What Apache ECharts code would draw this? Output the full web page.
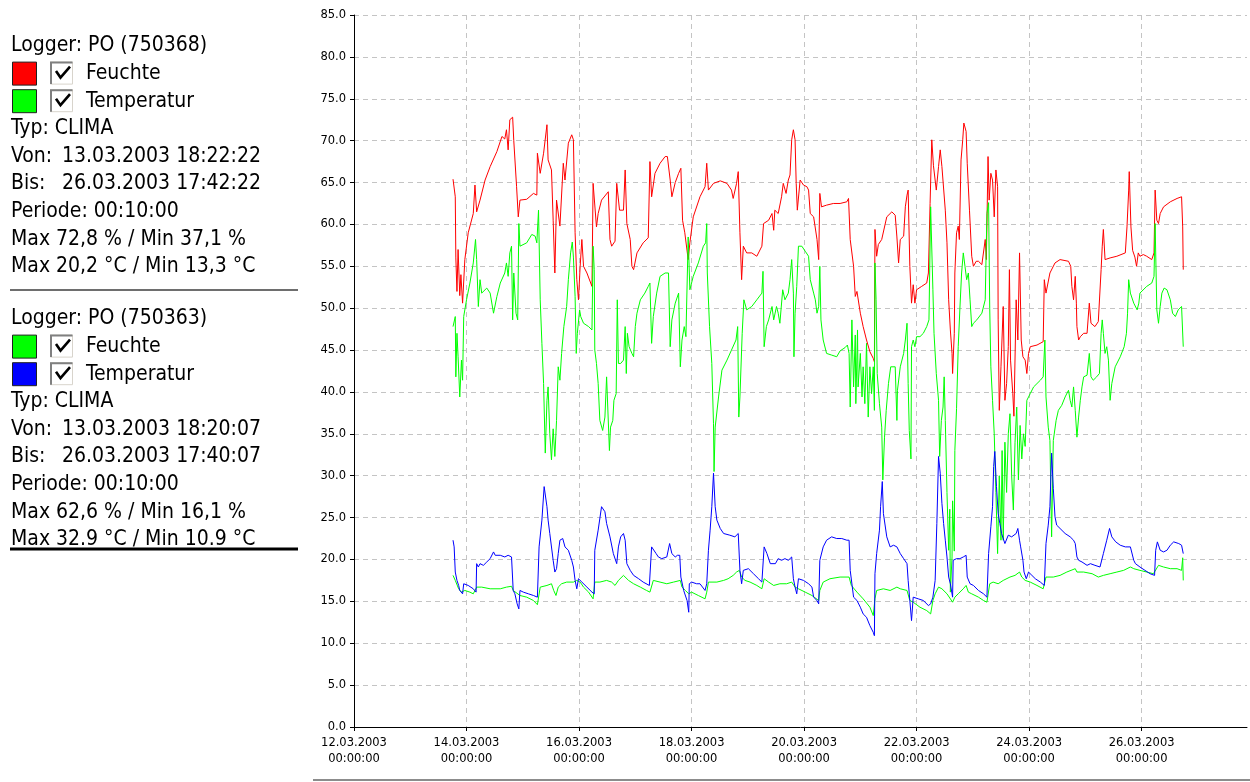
<!DOCTYPE html>
<html>
<head>
<meta charset="utf-8">
<script src="https://cdn.jsdelivr.net/npm/echarts@6/dist/echarts.min.js"></script>
<style>
  html, body { margin: 0; padding: 0; background: #ffffff; }
  #chart { width: 1250px; height: 782px; }
</style>
</head>
<body>
<div id="chart"></div>
<script>
// Time is given as day of March 2003 (decimal), values in % or °C.

// Logger PO (750368) – Feuchte [%]
const redHumidity1 = [
[13.76,65.4],[13.80,63.3],[13.81,56],[13.83,52],[13.85,57],[13.88,51.5],[13.90,54],[13.93,50.6],[13.97,55.8],[14.03,59],[14.12,61.3],[14.15,64.7],[14.18,61.5],[14.24,62.9],[14.33,65.3],[14.42,66.9],[14.54,68.7],[14.63,70.5],[14.68,70.2],[14.71,71.3],[14.74,68.9],[14.77,72.5],[14.82,72.8],[14.84,70],[14.89,64.5],[14.92,60.9],[14.95,62.9],[15.07,63],[15.19,63.7],[15.25,63.5],[15.26,68.5],[15.31,66.1],[15.37,68.5],[15.43,71.9],[15.45,67.7],[15.51,66.5],[15.54,60.5],[15.57,54.2],[15.60,62.9],[15.66,59.8],[15.72,67.3],[15.75,65.3],[15.81,69.7],[15.87,70.7],[15.90,70.1],[15.93,59],[15.96,53.4],[15.99,51],[16.02,55],[16.05,58.2],[16.08,55],[16.14,54.2],[16.23,52.6],[16.25,64.9],[16.31,59.7],[16.34,61.3],[16.40,62.9],[16.52,63.9],[16.55,58.2],[16.58,57.4],[16.64,58],[16.67,64.9],[16.72,61.7],[16.79,61.7],[16.82,66.5],[16.85,60.1],[16.91,58.2],[16.94,55],[16.97,54.6],[17.03,56.6],[17.14,57.8],[17.23,58.4],[17.26,67.5],[17.29,63.3],[17.35,66.1],[17.44,67.3],[17.53,68.1],[17.57,68.1],[17.62,65.3],[17.65,63.3],[17.71,65],[17.77,66.1],[17.81,66.7],[17.84,60.5],[17.88,59],[17.94,55.8],[17.97,57.8],[18.03,60.9],[18.15,63.3],[18.24,64.5],[18.27,67.3],[18.30,64.1],[18.39,64.9],[18.51,65.2],[18.63,64.9],[18.71,64.1],[18.74,63.1],[18.80,64.9],[18.83,66.3],[18.86,59],[18.89,53.4],[18.92,57.4],[18.98,56.6],[19.07,56.6],[19.16,56.2],[19.25,57.4],[19.28,60.1],[19.37,60.5],[19.43,61.3],[19.46,59.3],[19.48,61.7],[19.54,61.3],[19.60,63.3],[19.63,64.9],[19.68,63.7],[19.72,65.3],[19.75,65.9],[19.78,70.1],[19.81,71.3],[19.84,70.1],[19.86,64.9],[19.88,61.7],[19.93,65.3],[19.99,64.7],[20.05,64.5],[20.08,64.1],[20.11,61.3],[20.17,60.9],[20.23,58.2],[20.26,55.8],[20.28,63.7],[20.31,62.1],[20.40,62.3],[20.52,62.5],[20.64,62.5],[20.76,62.7],[20.79,63.1],[20.82,58.2],[20.88,55],[20.91,51.4],[20.94,52],[21.00,49.4],[21.05,47.8],[21.11,46.2],[21.17,44.8],[21.23,44],[21.25,43.6],[21.26,59.4],[21.29,56.2],[21.32,57.6],[21.38,58.2],[21.47,60.9],[21.56,61.5],[21.62,61.1],[21.65,58.5],[21.68,55.4],[21.71,58.2],[21.77,58.6],[21.80,62.1],[21.83,63.5],[21.85,64.1],[21.88,55],[21.91,50.6],[21.94,52.8],[21.97,50.6],[22.00,52.2],[22.09,52.6],[22.18,53],[22.21,54.2],[22.24,62.5],[22.27,70.1],[22.30,67],[22.35,64.1],[22.39,66.9],[22.42,68.9],[22.45,66.9],[22.48,66.9],[22.51,61.7],[22.54,57.8],[22.57,51],[22.60,47.4],[22.63,44.6],[22.64,42.2],[22.67,47],[22.68,54.2],[22.71,59],[22.74,59.8],[22.76,58.2],[22.79,67.7],[22.82,70.1],[22.84,72.1],[22.88,71.1],[22.90,67.3],[22.94,61.7],[22.98,56.2],[23.01,55],[23.06,55.6],[23.10,55.6],[23.16,55.2],[23.22,58.2],[23.24,55.8],[23.27,68.1],[23.29,62.9],[23.32,66.1],[23.35,65.3],[23.38,60.9],[23.41,66.5],[23.44,64.5],[23.45,48.6],[23.47,37.8],[23.50,43],[23.54,50.2],[23.57,39],[23.60,41],[23.63,45.4],[23.65,54.6],[23.67,43.8],[23.71,39.8],[23.73,37.1],[23.77,51],[23.80,46.2],[23.83,56.6],[23.86,46.2],[23.89,44.2],[23.93,43.8],[23.96,42.2],[23.99,44.6],[24.02,45.4],[24.14,45.6],[24.25,46],[24.27,53.4],[24.30,51.8],[24.37,54.2],[24.46,55.4],[24.55,55.8],[24.70,55.6],[24.74,55],[24.76,52.6],[24.79,51],[24.82,53.8],[24.84,50.6],[24.85,47.8],[24.88,46.2],[24.91,46.6],[24.97,47],[25.03,47],[25.07,50.6],[25.10,48.2],[25.13,48],[25.17,47.8],[25.23,48.4],[25.28,54.6],[25.30,57.4],[25.32,59.4],[25.35,55.8],[25.44,56],[25.56,56.2],[25.71,56.6],[25.74,59.7],[25.77,64.1],[25.78,66.3],[25.81,59.7],[25.84,56.9],[25.88,56.1],[25.91,55],[25.94,56.6],[25.97,56.2],[26.03,56.4],[26.09,56.2],[26.18,55.8],[26.22,56.6],[26.24,64.1],[26.27,60.5],[26.30,60.1],[26.33,61.3],[26.39,62.1],[26.51,62.7],[26.63,63.1],[26.71,63.3],[26.73,59.7],[26.74,54.6]
];

// Logger PO (750368) – Temperatur [°C]
const greenTemp1 = [
[13.76,18.1],[13.80,17.5],[13.86,16.5],[13.91,16.1],[13.97,16.3],[14.06,16.1],[14.12,15.9],[14.15,15.7],[14.18,16.7],[14.27,16.7],[14.42,16.5],[14.60,16.5],[14.71,16.7],[14.80,16.8],[14.83,16.3],[14.95,15.7],[15.07,15.5],[15.19,15.1],[15.26,14.6],[15.31,16.7],[15.43,16.9],[15.51,17.1],[15.55,16.3],[15.59,15.7],[15.63,16.7],[15.69,17.1],[15.78,17.3],[15.90,17.3],[15.96,17.5],[16.02,17.3],[16.08,16.7],[16.17,16.1],[16.25,15.3],[16.28,17.3],[16.37,17.3],[16.49,17.5],[16.58,17.3],[16.64,16.9],[16.70,17.5],[16.79,18.1],[16.88,17.5],[16.97,17.1],[17.09,16.7],[17.20,16.3],[17.26,16.1],[17.32,17.5],[17.44,17.3],[17.56,17.1],[17.68,17.3],[17.80,17.5],[17.83,16.7],[17.89,16.3],[17.95,15.9],[18.00,16.1],[18.12,15.7],[18.24,15.3],[18.27,16.1],[18.30,17.3],[18.45,17.3],[18.57,17.5],[18.65,17.7],[18.74,18.1],[18.80,18.5],[18.85,18.7],[18.89,17.9],[18.95,17.5],[19.04,17.3],[19.16,16.9],[19.25,16.5],[19.29,17.7],[19.37,17.3],[19.46,16.9],[19.57,17.1],[19.69,17.1],[19.78,17.3],[19.84,16.7],[19.90,16.5],[20.02,16.1],[20.14,15.7],[20.26,15.1],[20.28,16.3],[20.34,17.3],[20.46,17.7],[20.64,17.9],[20.80,17.9],[20.84,16.9],[20.94,16.1],[21.05,15.3],[21.17,14.3],[21.23,13.3],[21.26,15.3],[21.29,16.3],[21.41,16.5],[21.53,16.3],[21.65,16.7],[21.71,16.5],[21.83,16.3],[21.88,15.1],[21.94,14.9],[22.06,14.3],[22.18,13.9],[22.25,13.5],[22.29,15.1],[22.33,15.9],[22.39,16.7],[22.45,16.5],[22.54,15.9],[22.64,14.9],[22.68,15.5],[22.74,15.9],[22.83,16.5],[22.88,16.9],[22.92,16.1],[22.98,15.9],[23.10,15.5],[23.19,15.1],[23.25,14.9],[23.30,17.1],[23.36,17.3],[23.45,17.1],[23.54,17.5],[23.66,17.9],[23.75,18.1],[23.83,18.5],[23.87,17.9],[23.93,17.5],[24.02,17.3],[24.14,16.9],[24.25,16.5],[24.30,17.9],[24.43,17.9],[24.55,18.1],[24.67,18.5],[24.82,18.9],[24.85,18.5],[24.97,18.5],[25.12,18.3],[25.23,17.9],[25.32,18.1],[25.44,18.3],[25.56,18.5],[25.68,18.7],[25.80,19.1],[25.86,18.9],[25.97,18.7],[26.09,18.5],[26.21,18.3],[26.30,19.3],[26.39,19.1],[26.51,18.9],[26.63,18.9],[26.71,18.7],[26.73,20.2],[26.74,17.5]
];

// Logger PO (750363) – Feuchte [%]
const greenHumidity2 = [
[13.76,47.8],[13.80,49],[13.81,41.8],[13.83,47],[13.85,44.2],[13.88,39.4],[13.91,43.8],[13.93,41.4],[13.95,49],[14.00,51],[14.06,53],[14.12,55.4],[14.16,58.2],[14.18,55.8],[14.21,50.2],[14.24,53.4],[14.27,51.8],[14.36,52.4],[14.42,51.8],[14.48,49.4],[14.54,51.4],[14.60,53],[14.68,54.2],[14.71,55.4],[14.74,53.8],[14.77,56.6],[14.80,57.4],[14.82,48.6],[14.84,54.2],[14.88,49.4],[14.91,48.6],[14.93,60.1],[14.95,57.4],[15.07,57.8],[15.16,58.8],[15.22,58.6],[15.25,57.8],[15.28,61.7],[15.31,51],[15.34,45.8],[15.37,41],[15.40,32.7],[15.43,39],[15.45,40.6],[15.48,35],[15.51,31.9],[15.54,35.6],[15.57,32.3],[15.60,36.6],[15.63,43],[15.66,41.4],[15.69,44.6],[15.73,47.8],[15.78,50.2],[15.81,53.4],[15.85,56.6],[15.88,57.9],[15.90,56.1],[15.93,51.4],[15.95,44.6],[15.97,47],[16.01,49.8],[16.03,49],[16.08,48.2],[16.17,47.8],[16.23,47.4],[16.25,57.4],[16.27,54.6],[16.28,45],[16.31,43.4],[16.34,41],[16.37,36.6],[16.42,35.4],[16.46,37],[16.49,41.8],[16.52,41.8],[16.54,33],[16.56,35.8],[16.60,36.6],[16.62,39],[16.66,39.8],[16.68,51],[16.70,43.4],[16.74,43.4],[16.79,43.8],[16.82,47.8],[16.84,42.2],[16.86,47],[16.89,45.4],[16.94,44.6],[16.97,44.2],[17.00,47.8],[17.03,49.4],[17.09,51],[17.17,51.8],[17.23,52.6],[17.26,53],[17.29,45.8],[17.32,49],[17.38,51.8],[17.44,53.8],[17.53,54.2],[17.59,54.2],[17.62,45.4],[17.65,48.6],[17.71,50.6],[17.77,51.8],[17.80,43],[17.83,46.2],[17.87,47.8],[17.90,46.6],[17.94,58.5],[17.97,52.2],[18.03,53.8],[18.12,55.4],[18.21,57.4],[18.25,57.8],[18.27,60.1],[18.28,54.2],[18.32,47.8],[18.36,43.4],[18.39,36.2],[18.40,30.5],[18.42,35.8],[18.48,39.4],[18.54,42.6],[18.63,43.8],[18.71,45],[18.79,46.2],[18.82,47.8],[18.84,37],[18.86,39.4],[18.90,47],[18.93,51],[18.98,49.8],[19.07,50.2],[19.16,51],[19.25,51.8],[19.27,54.4],[19.29,45.4],[19.33,47.8],[19.37,48.6],[19.43,50.2],[19.46,48.6],[19.51,50.2],[19.54,49.4],[19.57,48.2],[19.62,52.2],[19.66,51],[19.72,51.8],[19.75,53.4],[19.78,55.8],[19.81,51.8],[19.82,44.2],[19.84,49.4],[19.87,52.6],[19.90,57.4],[19.96,57.4],[20.02,56.8],[20.08,56.2],[20.11,53.4],[20.17,51.8],[20.20,51],[20.23,49.4],[20.26,50.2],[20.28,55],[20.30,48.6],[20.34,46.2],[20.40,44.6],[20.49,44.4],[20.58,44.2],[20.64,44.9],[20.73,45.3],[20.77,45.6],[20.80,44.6],[20.82,38.2],[20.85,48.6],[20.88,40.6],[20.91,46.8],[20.92,38.6],[20.95,47.4],[20.96,40.6],[21.00,44.6],[21.03,39.4],[21.05,43],[21.08,38.6],[21.11,45.8],[21.14,37],[21.17,43],[21.20,39.8],[21.23,43],[21.25,37.8],[21.26,55.4],[21.28,51],[21.30,42.2],[21.34,38.6],[21.38,35.8],[21.40,29.5],[21.43,34.6],[21.46,37.8],[21.50,41],[21.54,43],[21.62,43],[21.65,36.6],[21.66,40.2],[21.71,43],[21.77,44.6],[21.80,46.2],[21.83,48.2],[21.85,41],[21.87,35.4],[21.90,32],[21.91,45.4],[21.94,46.2],[21.97,45.4],[22.00,46.6],[22.06,46.6],[22.12,47],[22.18,47.8],[22.22,48.6],[22.25,62.1],[22.29,52.2],[22.31,47],[22.35,42.2],[22.39,39],[22.41,32.3],[22.44,36.6],[22.47,38.2],[22.49,41.8],[22.51,36.6],[22.54,28],[22.57,21.1],[22.59,26],[22.60,16.1],[22.63,20.3],[22.64,27],[22.67,21],[22.68,33],[22.71,38],[22.74,45.4],[22.77,50],[22.80,54.2],[22.83,56.6],[22.86,55],[22.89,53.4],[22.92,54.2],[22.95,51],[22.98,47.8],[23.01,48.2],[23.07,48.6],[23.16,49.4],[23.22,51],[23.25,61.3],[23.28,62.6],[23.30,50],[23.32,43],[23.35,39],[23.38,35],[23.41,28],[23.44,20.7],[23.47,30],[23.50,22.3],[23.52,33],[23.54,22.3],[23.57,34],[23.60,28],[23.63,35],[23.66,37.4],[23.69,30],[23.72,25.9],[23.75,34],[23.78,38.2],[23.81,29.5],[23.84,36],[23.87,32],[23.90,35],[23.93,33.5],[23.96,39],[24.02,39.8],[24.08,40.6],[24.14,41],[24.20,41.4],[24.25,41.8],[24.28,46.2],[24.30,39.4],[24.34,35.8],[24.37,34.2],[24.40,22.7],[24.43,34.2],[24.48,36.6],[24.52,37.8],[24.58,38.4],[24.64,39.4],[24.70,40.2],[24.73,39],[24.76,38.2],[24.79,40.6],[24.82,37.8],[24.85,34.6],[24.88,37],[24.91,39],[24.94,40.6],[24.97,41.8],[25.03,42],[25.07,44.6],[25.10,41.8],[25.14,41.4],[25.20,41.8],[25.25,42.2],[25.28,47],[25.30,48.6],[25.32,47],[25.35,44.6],[25.38,45.4],[25.41,43.8],[25.44,39],[25.47,41],[25.53,43],[25.62,44.2],[25.69,45.4],[25.73,47],[25.75,49.4],[25.77,53.4],[25.80,51.8],[25.86,50.6],[25.92,49.8],[25.95,50.6],[25.97,51.8],[26.09,52.6],[26.18,53],[26.22,53.8],[26.24,60.1],[26.27,49.8],[26.30,48.2],[26.33,50.2],[26.36,51.8],[26.40,52.4],[26.45,52.2],[26.51,51],[26.55,49.4],[26.60,49],[26.65,49.8],[26.71,50.2],[26.74,45.4]
];

// Logger PO (750363) – Temperatur [°C]
const blueTemp2 = [
[13.76,22.3],[13.78,21.5],[13.80,18.5],[13.83,17.5],[13.86,16.9],[13.88,16.3],[13.93,15.9],[13.95,17.1],[14.03,16.9],[14.12,16.5],[14.17,16.1],[14.18,19.5],[14.21,19.1],[14.24,19.5],[14.30,19.3],[14.36,19.7],[14.42,20.1],[14.48,20.9],[14.51,20.5],[14.60,20.5],[14.68,20.3],[14.74,20.5],[14.80,20.3],[14.83,16.3],[14.86,15.9],[14.90,14.7],[14.93,14.1],[14.95,16.3],[15.01,16.1],[15.10,15.9],[15.19,15.7],[15.26,15.5],[15.29,21.5],[15.34,24.7],[15.38,28.7],[15.40,28.9],[15.43,26.3],[15.45,24.7],[15.48,23.1],[15.54,19.9],[15.57,18.5],[15.60,18.9],[15.63,20.7],[15.66,22.3],[15.71,22.5],[15.75,21.5],[15.81,21.1],[15.87,19.9],[15.90,19.1],[15.93,17.5],[15.96,16.5],[15.99,17.7],[16.05,17.3],[16.14,16.7],[16.23,16.1],[16.27,15.9],[16.28,21.1],[16.34,23.5],[16.40,26.3],[16.43,26.1],[16.46,25.7],[16.49,24.3],[16.55,22.7],[16.61,20.7],[16.67,19.5],[16.70,21.5],[16.74,22.7],[16.79,23.1],[16.82,22.3],[16.85,19.5],[16.91,18.7],[16.97,18.1],[17.06,17.7],[17.14,17.3],[17.25,16.9],[17.29,21.5],[17.32,21.7],[17.37,20.7],[17.41,20.3],[17.47,20.1],[17.56,20.3],[17.61,21.9],[17.65,20.7],[17.71,20.3],[17.75,20.5],[17.79,20.5],[17.81,17.9],[17.86,16.3],[17.92,15.1],[17.95,13.7],[17.96,17.1],[18.00,17.3],[18.09,17.1],[18.15,17.1],[18.24,16.3],[18.27,17.1],[18.30,21.1],[18.33,23.5],[18.36,26.3],[18.39,30.3],[18.42,26.3],[18.45,24.7],[18.51,23.7],[18.57,23.1],[18.68,22.9],[18.77,22.7],[18.83,23.1],[18.86,18.7],[18.89,17.1],[18.92,18.7],[19.01,18.9],[19.10,18.3],[19.19,17.7],[19.25,17.3],[19.29,21.5],[19.34,20.7],[19.40,19.5],[19.49,19.5],[19.54,20.1],[19.60,19.9],[19.66,20.1],[19.72,19.9],[19.78,20.3],[19.81,17.7],[19.84,16.7],[19.87,15.9],[19.90,17.7],[19.99,17.5],[20.08,17.1],[20.14,16.7],[20.17,15.5],[20.23,15.1],[20.26,14.7],[20.28,19.9],[20.34,21.5],[20.40,22.3],[20.49,22.7],[20.58,22.5],[20.67,22.5],[20.76,22.3],[20.80,22.3],[20.82,18.7],[20.88,15.5],[20.94,15.1],[21.00,14.3],[21.05,13.5],[21.11,13.1],[21.17,12.1],[21.23,11.3],[21.25,10.9],[21.26,18.3],[21.29,20.7],[21.34,23.5],[21.36,26.3],[21.39,29.3],[21.41,25.5],[21.47,22.7],[21.53,21.5],[21.59,21.7],[21.65,21.5],[21.71,20.7],[21.77,20.1],[21.83,19.5],[21.85,17.5],[21.88,15.1],[21.91,12.7],[21.94,15.5],[21.97,15.5],[22.03,15.3],[22.12,15.1],[22.21,14.5],[22.25,14.7],[22.29,15.5],[22.33,17.5],[22.36,24.3],[22.39,32.3],[22.42,30.3],[22.45,26.7],[22.48,24.3],[22.51,22.3],[22.54,20.3],[22.57,17.9],[22.60,17.1],[22.64,15.5],[22.65,19.9],[22.71,20.1],[22.77,20.1],[22.83,20.3],[22.88,20.5],[22.90,17.9],[22.95,17.1],[23.01,16.9],[23.10,16.3],[23.19,15.9],[23.25,15.5],[23.28,20.7],[23.32,23.9],[23.35,26.3],[23.37,31.1],[23.39,32.9],[23.42,28.7],[23.45,25.5],[23.48,24.3],[23.51,23.1],[23.57,21.9],[23.63,22.9],[23.69,22.7],[23.77,23.1],[23.80,23.7],[23.83,22.3],[23.85,21.5],[23.89,19.9],[23.91,18.5],[23.95,17.7],[23.99,18.5],[24.05,18.1],[24.11,17.7],[24.20,17.3],[24.27,16.9],[24.30,21.9],[24.34,24.1],[24.37,26.3],[24.40,32.7],[24.43,28.5],[24.46,25.1],[24.49,24.1],[24.55,23.7],[24.64,23.1],[24.73,22.7],[24.79,22.3],[24.82,21.9],[24.85,20.3],[24.88,19.9],[24.94,19.7],[25.03,19.3],[25.09,19.5],[25.17,19.3],[25.26,19.1],[25.32,20.7],[25.38,22.3],[25.43,23.7],[25.47,22.7],[25.54,22.1],[25.62,21.7],[25.71,21.5],[25.80,21.5],[25.83,21.7],[25.86,19.9],[25.89,19.5],[25.97,19.1],[26.06,18.7],[26.15,18.3],[26.23,18.1],[26.25,21.1],[26.28,22.1],[26.33,21.1],[26.39,20.9],[26.45,21.1],[26.51,21.7],[26.57,22.1],[26.66,21.9],[26.71,21.7],[26.74,20.7]
];

// Axis settings
const xStartDay = 12;      // 12.03.2003 00:00:00
const xEndDay = 27.873;    // right end of the time axis
const xStepDays = 2;
const xLastLabelDay = 26;
const yMax = 85;
const yStep = 5;

const panelFont = '21px "DejaVu Sans Condensed", "DejaVu Sans", sans-serif';
const axisFont = 'DejaVu Sans';

// Info panel texts for both loggers
const panelBlocks = [
  {
    top: 46,
    logger: 'Logger: PO (750368)',
    rows: [{ color: '#ff0000', name: 'Feuchte' }, { color: '#00ff00', name: 'Temperatur' }],
    typ: 'Typ: CLIMA',
    von: '13.03.2003 18:22:22',
    bis: '26.03.2003 17:42:22',
    periode: 'Periode: 00:10:00',
    maxH: 'Max 72,8 % / Min 37,1 %',
    maxT: 'Max 20,2 °C / Min 13,3 °C',
    rule: { y: 290, color: '#6e6e6e', width: 2 }
  },
  {
    top: 319,
    logger: 'Logger: PO (750363)',
    rows: [{ color: '#00ff00', name: 'Feuchte' }, { color: '#0000ff', name: 'Temperatur' }],
    typ: 'Typ: CLIMA',
    von: '13.03.2003 18:20:07',
    bis: '26.03.2003 17:40:07',
    periode: 'Periode: 00:10:00',
    maxH: 'Max 62,6 % / Min 16,1 %',
    maxT: 'Max 32.9 °C / Min 10.9 °C',
    rule: { y: 549, color: '#000000', width: 3 }
  }
];

function textEl(str, x, y) {
  return {
    type: 'text', x: x, y: y, silent: true,
    style: { text: str, font: panelFont, fill: '#000000', verticalAlign: 'middle', align: 'left' }
  };
}

function buildPanel() {
  const els = [];
  const step = 27.6;
  panelBlocks.forEach(b => {
    const y = i => b.top + step * i;
    els.push(textEl(b.logger, 11, y(0)));
    b.rows.forEach((r, k) => {
      const cy = y(1 + k);
      // colour swatch
      els.push({ type: 'rect', silent: true,
        shape: { x: 12.5, y: cy - 11.5, width: 24, height: 23 },
        style: { fill: r.color, stroke: '#202020', lineWidth: 1 } });
      // checkbox
      els.push({ type: 'rect', silent: true,
        shape: { x: 50.5, y: cy - 11.5, width: 22, height: 22 },
        style: { fill: '#ffffff', stroke: '#d8d4cc', lineWidth: 1 } });
      els.push({ type: 'polyline', silent: true,
        shape: { points: [[51, cy + 10.5], [51, cy - 11], [72.5, cy - 11]] },
        style: { fill: null, stroke: '#808080', lineWidth: 2 } });
      els.push({ type: 'polyline', silent: true,
        shape: { points: [[56, cy - 2.5], [60.5, cy + 4], [70, cy - 7]] },
        style: { fill: null, stroke: '#000000', lineWidth: 2.6 } });
      els.push(textEl(r.name, 86, cy));
    });
    els.push(textEl(b.typ, 11, y(3)));
    els.push(textEl('Von:', 11, y(4)));
    els.push(textEl(b.von, 62, y(4)));
    els.push(textEl('Bis:', 11, y(5)));
    els.push(textEl(b.bis, 62, y(5)));
    els.push(textEl(b.periode, 11, y(6)));
    els.push(textEl(b.maxH, 11, y(7)));
    els.push(textEl(b.maxT, 11, y(8)));
    els.push({ type: 'line', silent: true,
      shape: { x1: 10, y1: b.rule.y, x2: 298, y2: b.rule.y },
      style: { stroke: b.rule.color, lineWidth: b.rule.width } });
  });
  // footer rule under the plot
  els.push({ type: 'line', silent: true,
    shape: { x1: 313, y1: 780, x2: 1250, y2: 780 },
    style: { stroke: '#8c8c8c', lineWidth: 2 } });
  return els;
}

function pad2(n) { return (n < 10 ? '0' : '') + n; }

const chart = echarts.init(document.getElementById('chart'), null, { renderer: 'canvas' });

const lineSeries = (name, data, color) => ({
  name: name,
  type: 'line',
  data: data,
  showSymbol: false,
  symbol: 'none',
  sampling: null,
  clip: true,
  lineStyle: { color: color, width: 1 },
  itemStyle: { color: color },
  emphasis: { disabled: true }
});

chart.setOption({
  animation: false,
  backgroundColor: '#ffffff',
  grid: { left: 354, top: 15, width: 893, height: 712, containLabel: false },
  xAxis: {
    type: 'value',
    min: xStartDay,
    max: xEndDay,
    interval: xStepDays,
    axisLine: { show: true, onZero: false, lineStyle: { color: '#000000', width: 1 } },
    axisTick: { show: true, length: 4, lineStyle: { color: '#000000' } },
    splitLine: { show: true, showMaxLine: false, lineStyle: { color: '#c4c4c4', type: [5, 4], width: 1 } },
    axisLabel: {
      margin: 8,
      showMaxLabel: false,
      color: '#000000',
      fontFamily: axisFont,
      fontSize: 11.5,
      lineHeight: 16,
      formatter: v => (Number.isInteger(v) && v <= xLastLabelDay) ? pad2(v) + '.03.2003\n00:00:00' : ''
    }
  },
  yAxis: {
    type: 'value',
    min: 0,
    max: yMax,
    interval: yStep,
    axisLine: { show: true, lineStyle: { color: '#000000', width: 1 } },
    axisTick: { show: true, length: 4, lineStyle: { color: '#000000' } },
    splitLine: { show: true, lineStyle: { color: '#c4c4c4', type: [5, 4], width: 1 } },
    axisLabel: {
      margin: 8,
      color: '#000000',
      fontFamily: axisFont,
      fontSize: 11.5,
      formatter: v => v.toFixed(1)
    }
  },
  series: [
    lineSeries('Feuchte (750368)', redHumidity1, '#ff0000'),
    lineSeries('Temperatur (750368)', greenTemp1, '#00ff00'),
    lineSeries('Feuchte (750363)', greenHumidity2, '#00ff00'),
    lineSeries('Temperatur (750363)', blueTemp2, '#0000ff')
  ],
  graphic: buildPanel()
});
</script>
</body>
</html>
